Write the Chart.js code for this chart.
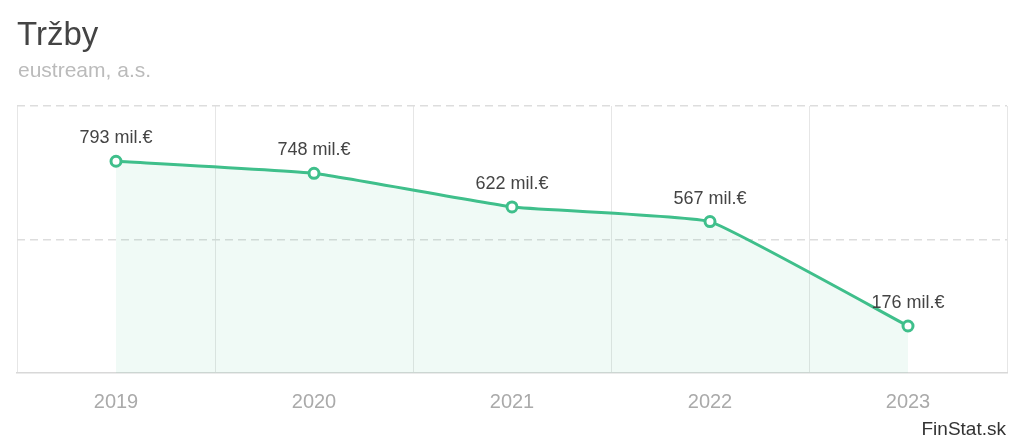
<!DOCTYPE html>
<html>
<head>
<meta charset="utf-8">
<script src="https://cdn.jsdelivr.net/npm/chart.js@4/dist/chart.umd.min.js"></script>
<style>
  body { margin: 0; background: #fff; font-family: "Liberation Sans", Arial, sans-serif; }
  #wrap { position: relative; width: 1024px; height: 444px; overflow: hidden; }
  #chart { position: absolute; left: 0; top: 0; }
  .txt { position: absolute; line-height: 1; white-space: nowrap; }
  #title { left: 17px; top: 17px; font-size: 33px; color: #444; }
  #subtitle { left: 18px; top: 59px; font-size: 21px; color: #bbb; }
  #footer { right: 18px; top: 419px; font-size: 19px; color: #333; }
</style>
</head>
<body>
<div id="wrap">
  <canvas id="chart" width="1024" height="444"></canvas>
  <div class="txt" id="title">Tržby</div>
  <div class="txt" id="subtitle">eustream, a.s.</div>
  <div class="txt" id="footer">FinStat.sk</div>
</div>
<script>
// data
const years = ['2019', '2020', '2021', '2022', '2023'];
const revenue = [793, 748, 622, 567, 176];   // mil. €
const yTicks = [0, 500, 1000];

const lineColor = '#3fbf8b';

// draws "xxx mil.€" above every point
const valueLabels = {
    id: 'valueLabels',
    afterDatasetsDraw(chart) {
        const ctx = chart.ctx;
        const meta = chart.getDatasetMeta(0);
        ctx.save();
        ctx.font = '18px "Liberation Sans", Arial, sans-serif';
        ctx.fillStyle = '#444';
        ctx.textAlign = 'center';
        ctx.textBaseline = 'middle';
        meta.data.forEach((pt, i) => {
            ctx.fillText(revenue[i] + ' mil.€', pt.x, pt.y - 23);
        });
        ctx.restore();
    }
};

new Chart(document.getElementById('chart'), {
    type: 'line',
    data: {
        labels: years,
        datasets: [{
            data: revenue,
            borderColor: lineColor,
            backgroundColor: 'rgba(63, 191, 139, 0.08)',
            borderWidth: 3,
            fill: 'origin',
            tension: 0.1,
            pointRadius: 5,
            pointBorderWidth: 3,
            pointBackgroundColor: '#fff',
            pointBorderColor: lineColor
        }]
    },
    options: {
        responsive: false,
        animation: false,
        layout: { padding: { left: 17, right: 17, top: 106, bottom: 13 } },
        plugins: {
            legend: { display: false },
            tooltip: { enabled: false }
        },
        scales: {
            x: {
                offset: true,
                grid: { offset: true, color: '#e6e6e6', lineWidth: 1, drawTicks: false },
                border: { display: true, color: '#d8d8d8', width: 1.5 },
                ticks: {
                    padding: 17,
                    color: '#aaa',
                    font: { family: '"Liberation Sans", Arial, sans-serif', size: 20 }
                }
            },
            y: {
                min: yTicks[0],
                max: yTicks[yTicks.length - 1],
                afterBuildTicks(axis) {
                    axis.ticks = yTicks.map(v => ({ value: v }));
                },
                grid: {
                    drawTicks: false,
                    lineWidth: 1.5,
                    color: c => (c.tick && c.tick.value === 0) ? 'rgba(0,0,0,0)' : '#dddddd'
                },
                border: { display: false, dash: [8, 5] },
                ticks: { display: false }
            }
        }
    },
    plugins: [valueLabels]
});
</script>
</body>
</html>
